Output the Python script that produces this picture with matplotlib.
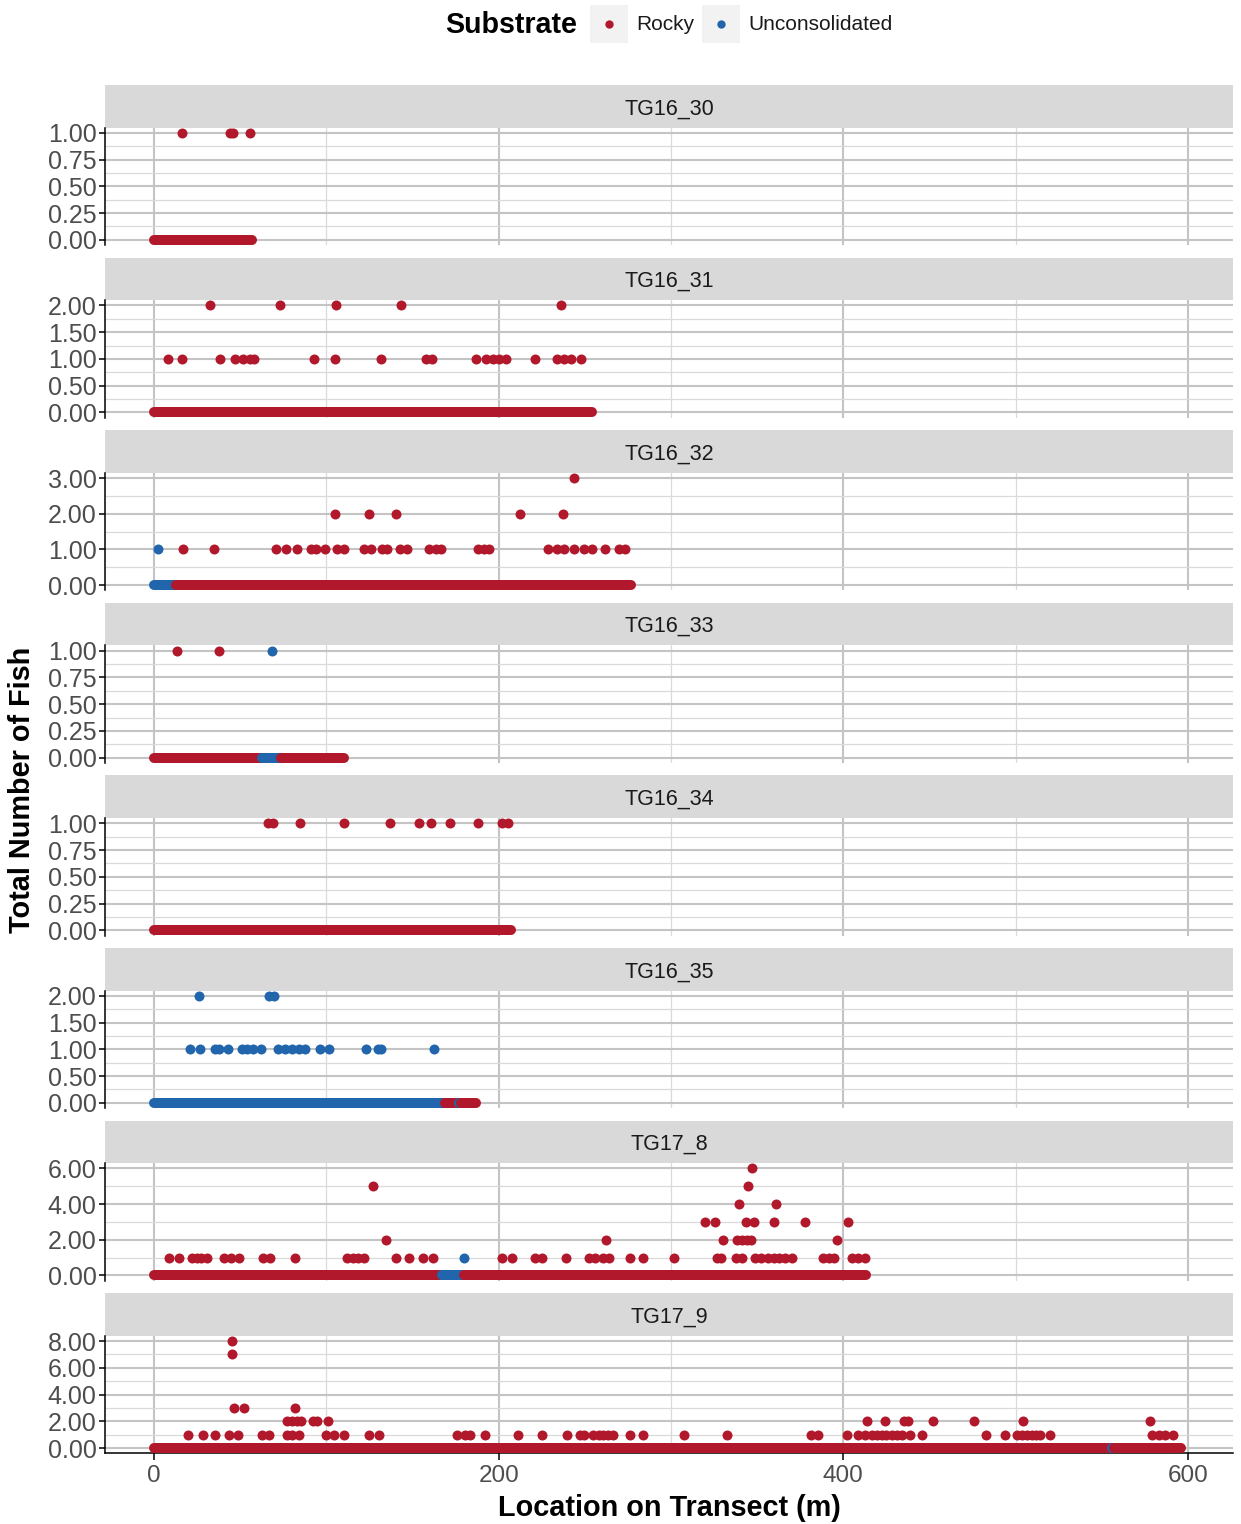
import numpy as np
import matplotlib
matplotlib.use('Agg')
import matplotlib.pyplot as plt
from matplotlib.patches import Rectangle
from matplotlib.lines import Line2D

plt.rcParams['font.family'] = ['Liberation Sans', 'DejaVu Sans']

# ── data ─────────────────────────────────────────────────────────────────────
transects = ['TG16_30', 'TG16_31', 'TG16_32', 'TG16_33',
             'TG16_34', 'TG16_35', 'TG17_8', 'TG17_9']
y_max  = [1, 2, 3, 1, 1, 2, 6, 8]
y_step = [0.25, 0.5, 1, 0.25, 0.25, 0.5, 2, 2]
x_ticks = [0, 200, 400, 600]

substrates = ['Rocky', 'Unconsolidated']
sub_colors = {'R': '#B2182B', 'U': '#2166AC'}

# locations (m) with fish; counts; substrate code per point
tg16_30_x = [16, 44, 46, 56]
tg16_30_n = [1, 1, 1, 1]
tg16_30_s = 'RRRR'

tg16_31_x = [32.5, 73, 105.5, 143.5, 236,
             8, 16, 38.5, 47, 51.5, 55.5, 58, 93, 105, 132, 158, 161.5,
             187, 192.5, 196.5, 200.5, 204, 221, 234, 238, 242, 247.5]
tg16_31_n = [2] * 5 + [1] * 22
tg16_31_s = 'R' * 27

tg16_32_x = [244,
             105, 124.5, 140.5, 212.5, 237.5,
             17, 35, 71, 76.5, 83, 91, 94, 99.5, 106, 110.5, 122, 126, 132.5,
             135.5, 142.5, 147, 159.5, 163.5, 166.5, 188, 191.5, 194.5, 228.5,
             234, 238, 243.5, 249.5, 254, 261.5, 270, 273.5,
             2.5]
tg16_32_n = [3] + [2] * 5 + [1] * 31 + [1]
tg16_32_s = 'R' * 37 + 'U'

tg16_33_x = [13.5, 38, 68.5]
tg16_33_n = [1, 1, 1]
tg16_33_s = 'RRU'

tg16_34_x = [66, 69, 85, 110, 137, 154, 160.5, 172, 188, 202, 205.5]
tg16_34_n = [1] * 11
tg16_34_s = 'R' * 11

tg16_35_x = [26, 67, 69.5,
             21, 27, 35.5, 37.5, 43, 51, 54, 57.5, 62, 72, 76, 80, 84, 87.5,
             96.5, 101.5, 123, 130, 132, 162.5]
tg16_35_n = [2] * 3 + [1] * 20
tg16_35_s = 'U' * 23

tg17_8_x = [347,
            127, 344.5,
            339.5, 361,
            320, 325.5, 343.5, 348, 359.5, 377.5, 403,
            134.5, 262.5, 330, 338.5, 341, 344, 346.5, 396.5,
            9, 14.5, 22, 25, 27.5, 31, 40.5, 44.5, 49.5, 63, 67.5, 82, 112,
            115.5, 118.5, 122, 140.5, 148, 156, 162, 202, 208, 221, 225, 239,
            252.5, 256, 260.5, 264, 276.5, 284, 302, 326.5, 329, 338, 341,
            348.5, 352, 356.5, 359.5, 362.5, 366, 370, 388, 391.5, 394.5, 405,
            408.5, 412.5,
            180]
tg17_8_n = [6, 5, 5, 4, 4] + [3] * 7 + [2] * 8 + [1] * 49 + [1]
tg17_8_s = 'R' * 69 + 'U'

tg17_9_x = [45.5, 45,
            46.5, 52, 82,
            77, 80, 83, 85.5, 92.5, 94.5, 101, 413.5, 424, 435, 437.5, 452,
            476, 504.5, 578,
            20, 28.5, 35.5, 43.5, 48.5, 62.5, 66.5, 77, 80, 84, 100, 104.5,
            110.5, 125, 130.5, 176, 180.5, 183.5, 192, 211, 225, 239.5, 247,
            249.5, 255, 258, 260.5, 263.5, 266.5, 276, 284, 307.5, 332.5,
            381.5, 385.5, 402, 408.5, 412.5, 416.5, 419.5, 422.5, 425, 428,
            431, 434, 438.5, 445.5, 482.5, 494, 500.5, 503.5, 506.5, 509.5,
            512, 514, 520, 579, 583, 586.5, 591]
tg17_9_n = [8, 7] + [3] * 3 + [2] * 15 + [1] * 60
tg17_9_s = 'R' * 80

# stretches of the transect with zero fish: start, end, substrate
tg16_30_zero = [(0, 57, 'R')]
tg16_31_zero = [(0, 254, 'R')]
tg16_32_zero = [(0, 13, 'U'), (13, 277, 'R')]
tg16_33_zero = [(0, 62.5, 'R'), (62.5, 74, 'U'), (74, 110.5, 'R')]
tg16_34_zero = [(0, 207, 'R')]
tg16_35_zero = [(0, 169, 'U'), (169, 177, 'R'), (177, 178, 'U'), (178, 187, 'R')]
tg17_8_zero  = [(0, 167, 'R'), (167, 180, 'U'), (180, 413, 'R')]
tg17_9_zero  = [(0, 556, 'R'), (556, 557, 'U'), (557, 596, 'R')]

points = [(tg16_30_x, tg16_30_n, tg16_30_s), (tg16_31_x, tg16_31_n, tg16_31_s),
          (tg16_32_x, tg16_32_n, tg16_32_s), (tg16_33_x, tg16_33_n, tg16_33_s),
          (tg16_34_x, tg16_34_n, tg16_34_s), (tg16_35_x, tg16_35_n, tg16_35_s),
          (tg17_8_x, tg17_8_n, tg17_8_s), (tg17_9_x, tg17_9_n, tg17_9_s)]
zeros = [tg16_30_zero, tg16_31_zero, tg16_32_zero, tg16_33_zero,
         tg16_34_zero, tg16_35_zero, tg17_8_zero, tg17_9_zero]

# ── layout (pixels) ──────────────────────────────────────────────────────────
W, H = 1241, 1524
fig = plt.figure(figsize=(W / 100, H / 100), dpi=100)

def box(px, py, pw, ph):
    return [px / W, 1 - (py + ph) / H, pw / W, ph / H]

left, width = 105, 1128
first_top, pitch, strip_h, panel_h = 85, 172.6, 42.5, 117.7
dot_ms = 7.2
xlim = (-28.4, 626.1)

for i, name in enumerate(transects):
    top = first_top + pitch * i
    # strip
    sax = fig.add_axes(box(left, top, width, strip_h))
    sax.set_facecolor('#D9D9D9')
    sax.set_xticks([]); sax.set_yticks([])
    for sp in sax.spines.values():
        sp.set_visible(False)
    sax.text(0.5, 0.44, name, ha='center', va='center', fontsize=15.5,
             color='#1A1A1A', transform=sax.transAxes)

    ax = fig.add_axes(box(left, top + strip_h, width, panel_h))
    ymax = y_max[i]
    ax.set_xlim(*xlim)
    ax.set_ylim(-0.05 * ymax, 1.05 * ymax)

    yt = np.arange(0, ymax + 1e-9, y_step[i])
    ax.set_yticks(yt)
    ax.set_yticklabels([f'{v:.2f}' for v in yt])
    ax.set_yticks(yt[:-1] + y_step[i] / 2, minor=True)
    ax.set_xticks(x_ticks)
    ax.set_xticks([100, 300, 500], minor=True)

    ax.grid(which='major', color='#C4C4C4', lw=1.5, zorder=0)
    ax.grid(which='minor', color='#DADADA', lw=0.9, zorder=0)
    ax.set_axisbelow(True)

    for side in ['top', 'right']:
        ax.spines[side].set_visible(False)
    ax.spines['left'].set_color('black')
    ax.spines['left'].set_linewidth(1.1)
    ax.tick_params(axis='y', which='major', length=4, width=1.1, color='black',
                   labelsize=18, labelcolor='#4D4D4D', pad=2)
    ax.tick_params(which='minor', length=0)

    if i == len(transects) - 1:
        ax.spines['bottom'].set_color('black')
        ax.spines['bottom'].set_linewidth(1.1)
        ax.tick_params(axis='x', which='major', length=5, width=1.1,
                       color='black', labelsize=17.5, labelcolor='#4D4D4D', pad=3)
    else:
        ax.spines['bottom'].set_visible(False)
        ax.tick_params(axis='x', which='major', length=0, labelbottom=False)

    # zero counts along the transect
    for start, end, sub in zeros[i]:
        ax.plot([start, end], [0, 0], color=sub_colors[sub], lw=dot_ms,
                solid_capstyle='round', zorder=3, clip_on=False)

    xs, ns, ss = points[i]
    for code in ['R', 'U']:
        px = [x for x, s in zip(xs, ss) if s == code]
        py = [n for n, s in zip(ns, ss) if s == code]
        ax.plot(px, py, 'o', color=sub_colors[code], ms=dot_ms, mew=0,
                zorder=4, clip_on=False)

# ── labels and legend ────────────────────────────────────────────────────────
fig.text(22 / W, 1 - 790 / H, 'Total Number of Fish', rotation=90,
         ha='center', va='center', fontsize=20.8, fontweight='bold')
fig.text(669 / W, 1 - 1508 / H, 'Location on Transect (m)',
         ha='center', va='center', fontsize=20.8, fontweight='bold')

fig.text(445 / W, 1 - 25 / H, 'Substrate', ha='left', va='center',
         fontsize=20.6, fontweight='bold')
key_x = [590, 702]
for kx, lab, code in zip(key_x, substrates, ['R', 'U']):
    fig.patches.append(Rectangle((kx / W, 1 - 43 / H), 38 / W, 38 / H,
                                 transform=fig.transFigure,
                                 facecolor='#F2F2F2', edgecolor='none'))
    fig.lines.append(Line2D([(kx + 19) / W], [1 - 24 / H], marker='o',
                            ms=6, mew=0, color=sub_colors[code],
                            transform=fig.transFigure))
    fig.text((kx + 46) / W, 1 - 25 / H, lab, ha='left', va='center',
             fontsize=15, color='#1A1A1A')

fig.savefig('out.png', dpi=100, facecolor='white')
